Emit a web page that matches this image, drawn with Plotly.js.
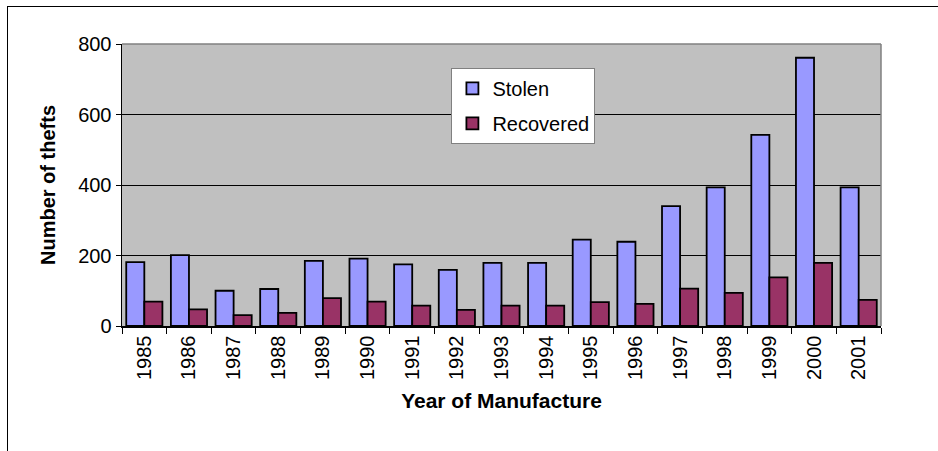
<!DOCTYPE html>
<html>
<head>
<meta charset="utf-8">
<script src="https://cdn.plot.ly/plotly-3.0.1.min.js"></script>
<style>
  html, body { margin: 0; padding: 0; background: #fff; overflow: hidden; }
  #frame { position: absolute; left: 7px; top: 6px; width: 940px; height: 460px;
           border-left: 1.5px solid #000; border-top: 1.5px solid #000; }
  #chart { position: absolute; left: 0; top: 0; width: 938px; height: 451px; }
</style>
</head>
<body>
<div id="frame"></div>
<div id="chart"></div>
<script>
const years = ["1985","1986","1987","1988","1989","1990","1991","1992","1993","1994","1995","1996","1997","1998","1999","2000","2001"];
const stolen = [181, 201, 100, 105, 185, 191, 175, 159, 179, 179, 245, 239, 340, 393, 542, 761, 393];
const recovered = [69, 47, 31, 37, 79, 69, 58, 46, 58, 58, 68, 63, 106, 94, 138, 179, 74];
const yTicks = [0, 200, 400, 600, 800];

const FONT = "Arial, 'Liberation Sans', sans-serif";

const traces = [
  { type: 'bar', name: 'Stolen', x: years, y: stolen, legendgroup: 'a',
    marker: { color: '#9999FF', line: { color: '#000', width: 1.8 } } },
  { type: 'bar', name: 'Recovered', x: years, y: recovered, legendgroup: 'b',
    marker: { color: '#993366', line: { color: '#000', width: 1.8 } } }
];

const layout = {
  width: 938, height: 451,
  paper_bgcolor: 'rgba(0,0,0,0)',
  plot_bgcolor: '#C0C0C0',
  margin: { l: 122, r: 57, t: 44, b: 125 },
  font: { family: FONT, color: '#000', size: 20 },
  barmode: 'group', bargap: 0.19, bargroupgap: 0,
  showlegend: true,
  legend: {
    x: 0.434, y: 0.915, xanchor: 'left', yanchor: 'top',
    bgcolor: '#fff', bordercolor: '#808080', borderwidth: 1,
    font: { family: FONT, size: 20, color: '#000' },
    tracegroupgap: 6, traceorder: 'grouped', itemwidth: 30
  },
  xaxis: {
    type: 'category',
    tickangle: -90,
    tickson: 'boundaries',
    ticks: 'outside', ticklen: 6, tickcolor: '#000', tickwidth: 1,
    showline: true, linecolor: '#000', linewidth: 1.5,
    showgrid: false,
    tickfont: { family: FONT, size: 20 },
    title: { text: 'Year of Manufacture', font: { family: FONT, size: 21, weight: 'bold' }, standoff: 14 },
    automargin: false
  },
  yaxis: {
    range: [0, 800],
    tickvals: yTicks,
    ticktext: yTicks.map(String),
    ticks: 'outside', ticklen: 5, tickcolor: '#000', tickwidth: 1,
    showline: true, linecolor: '#000', linewidth: 1.5,
    showgrid: true, gridcolor: '#000', gridwidth: 1,
    zeroline: false,
    tickfont: { family: FONT, size: 20 },
    title: { text: 'Number of thefts', font: { family: FONT, size: 20, weight: 'bold' }, standoff: 17 },
    automargin: false
  },
  shapes: [
    { type: 'line', xref: 'paper', yref: 'paper', x0: 0, x1: 1, y0: 1, y1: 1, line: { color: '#808080', width: 1.5 } },
    { type: 'line', xref: 'paper', yref: 'paper', x0: 1, x1: 1, y0: 0, y1: 1, line: { color: '#808080', width: 1.5 } }
  ]
};

Plotly.newPlot('chart', traces, layout, { displayModeBar: false, staticPlot: true });
</script>
</body>
</html>
